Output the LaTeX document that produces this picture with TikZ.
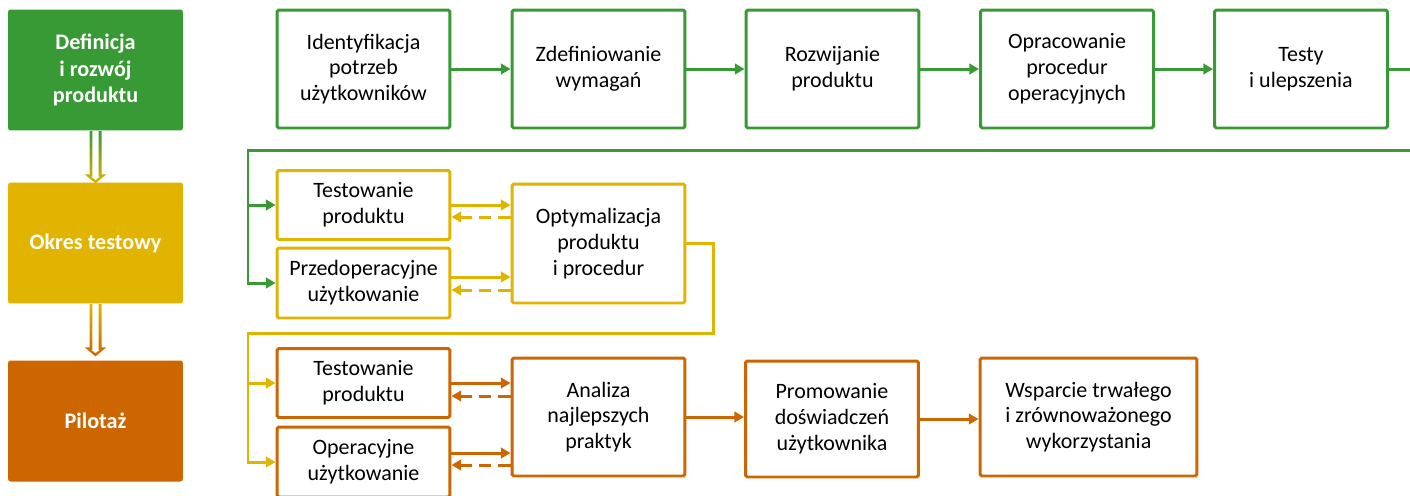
\documentclass[tikz,border=0pt]{standalone}
\usepackage{fontspec}
\setmainfont{Carlito}
\usetikzlibrary{arrows.meta,calc}

% hollow arrow between two phases, shaded from one colour to the next
\newcommand\phasearrow[3]{%
  \shade[top color=#2,bottom color=#3,even odd rule,shift={(#1.south)}]
    (-6,0) -- (-6,43.5) -- (-10.8,43.5) -- (0,52.5) -- (10.8,43.5)
      -- (6,43.5) -- (6,0) -- cycle
    (-3.2,0) -- (-3.2,45.8) -- (-4.6,45.8) -- (0,49.4) -- (4.6,45.8)
      -- (3.2,45.8) -- (3.2,0) -- cycle;}

\begin{document}
\begin{tikzpicture}[x=0.02cm,y=-0.02cm,>={Triangle[length=5.5pt,width=6pt]},
  font=\fontsize{12.5}{14.7}\selectfont,
  phase/.style={inner sep=0pt,minimum width=3.5cm,minimum height=2.42cm,
    rounded corners=1.5pt,align=center,text=white,
    font=\fontsize{12.6}{14.9}\selectfont\bfseries},
  stage/.style={draw,line width=1.7pt,rounded corners=1pt,inner sep=0pt,
    minimum width=3.46cm,minimum height=2.36cm,align=center},
  small/.style={stage,minimum height=1.38cm},
  flow/.style={->,line width=1.7pt},
  back/.style={->,line width=1.7pt,dash pattern=on 7pt off 4pt}]
\definecolor{cgreen}{RGB}{56,154,52}
\definecolor{cyellow}{RGB}{224,180,0}
\definecolor{corange}{RGB}{205,102,0}

\useasboundingbox (0,0) rectangle (1410,495);
\clip (0,0) rectangle (1410,495);

% Phases on the left.
\node[phase,fill=cgreen] (def) at (95.5,70) {Definicja\\i rozwój\\produktu};
\node[phase,fill=cyellow] (okr) at (95.5,243) {Okres testowy};
\node[phase,fill=corange] (pil) at (95.5,421) {Pilotaż};
\phasearrow{def}{cgreen}{cyellow}
\phasearrow{okr}{cyellow}{corange}

% Definition and development.
\node[stage,draw=cgreen] (ide) at (363.5,69) {Identyfikacja\\potrzeb\\użytkowników};
\node[stage,draw=cgreen] (wym) at (598.5,69) {Zdefiniowanie\\wymagań};
\node[stage,draw=cgreen] (roz) at (832.5,69) {Rozwijanie\\produktu};
\node[stage,draw=cgreen] (opr) at (1067,69) {Opracowanie\\procedur\\operacyjnych};
\node[stage,draw=cgreen] (tes) at (1301,69) {Testy\\i ulepszenia};
\foreach \a/\b in {ide/wym,wym/roz,roz/opr,opr/tes}
  \draw[flow,cgreen] (\a) -- (\b);

% Test period.
\node[small,draw=cyellow] (ytp) at (363.5,205) {Testowanie\\produktu};
\node[small,draw=cyellow,minimum height=1.4cm] (ypu) at (363.5,283) {Przedoperacyjne\\użytkowanie};
\node[stage,draw=cyellow,minimum height=2.38cm] (opt) at (598.5,243.5) {Optymalizacja\\produktu\\i procedur};

% Pilot.
\node[small,draw=corange] (otp) at (363.5,383) {Testowanie\\produktu};
\node[small,draw=corange,minimum height=1.4cm] (oou) at (363.5,462) {Operacyjne\\użytkowanie};
\node[stage,draw=corange] (ana) at (598.5,417) {Analiza\\najlepszych\\praktyk};
\node[stage,draw=corange,minimum height=2.32cm] (pro) at (832,419) {Promowanie\\doświadczeń\\użytkownika};
\node[stage,draw=corange,minimum width=4.34cm] (wsp) at (1088.5,417) {Wsparcie trwałego\\i zrównoważonego\\wykorzystania};
\draw[flow,corange] (ana.east) -- (ana.east -| pro.west);
\draw[flow,corange] (pro.east) -- (pro.east -| wsp.west);

% Forward and feedback arrows to the optimisation / analysis boxes.
\foreach \s/\t/\u/\v/\c in {ytp/opt/0/12/cyellow,ypu/opt/-6/7/cyellow,
    otp/ana/0/13/corange,oou/ana/-9/3/corange} {
  \draw[flow,\c] ($(\s.east)+(0,\u)$) -- ($(\s.east -| \t.west)+(0,\u)$);
  \draw[back,\c] ($(\s.east -| \t.west)+(0,\v)$) -- ($(\s.east)+(0,\v)$);
}

% Links from one phase to the next.
\coordinate (gr) at (1430,150);
\coordinate (gl) at (248,150);
\draw[flow,cgreen] (tes.east) -| (gr) -- (gl) |- (ypu.west);
\draw[flow,cgreen] (gl |- ytp.west) -- (ytp.west);

\coordinate (yr) at (713,333);
\coordinate (yl) at (248,333);
\draw[flow,cyellow] (opt.east) -| (yr) -- (yl) |- (oou.west);
\draw[flow,cyellow] (yl |- otp.west) -- (otp.west);

\end{tikzpicture}
\end{document}
